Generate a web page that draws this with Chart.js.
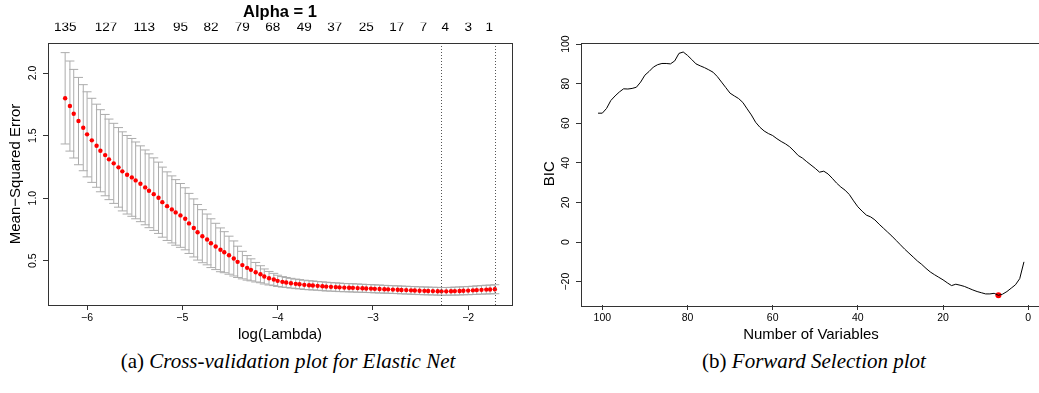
<!DOCTYPE html>
<html>
<head>
<meta charset="utf-8">
<script src="https://cdn.jsdelivr.net/npm/chart.js@4.4.1/dist/chart.umd.min.js"></script>
<style>
html, body { margin: 0; padding: 0; background: #fff; overflow: hidden; width: 1039px; height: 393px; }
#cvChart { position: absolute; left: 0; top: 0; }
#bicChart { position: absolute; left: 530px; top: 0; }
.cap { position: absolute; top: 349px; font-family: "Liberation Serif", "Times New Roman", serif; font-size: 21px; white-space: nowrap; transform: translateX(-50%); color: #000; }
.cap i { font-style: italic; }
</style>
</head>
<body>
<canvas id="cvChart" width="520" height="345"></canvas>
<canvas id="bicChart" width="520" height="345"></canvas>
<div class="cap" style="left:288px">(a) <i>Cross-validation plot for Elastic Net</i></div>
<div class="cap" style="left:814px">(b) <i>Forward Selection plot</i></div>
<script>
// ---- (a) cross-validation data ----
const cvLogLambda = [
  -6.23, -6.18, -6.14, -6.09, -6.04, -6.00, -5.95, -5.90, -5.86, -5.81,
  -5.77, -5.72, -5.67, -5.63, -5.58, -5.53, -5.49, -5.44, -5.39, -5.35,
  -5.30, -5.25, -5.21, -5.16, -5.11, -5.07, -5.02, -4.97, -4.93, -4.88,
  -4.84, -4.79, -4.74, -4.70, -4.65, -4.60, -4.56, -4.51, -4.46, -4.42,
  -4.37, -4.32, -4.28, -4.23, -4.18, -4.14, -4.09, -4.04, -4.00, -3.95,
  -3.91, -3.86, -3.81, -3.77, -3.72, -3.67, -3.63, -3.58, -3.53, -3.49,
  -3.44, -3.39, -3.35, -3.30, -3.25, -3.21, -3.16, -3.11, -3.07, -3.02,
  -2.98, -2.93, -2.88, -2.84, -2.79, -2.74, -2.70, -2.65, -2.60, -2.56,
  -2.51, -2.46, -2.42, -2.37, -2.32, -2.28, -2.23, -2.18, -2.14, -2.09,
  -2.05, -2.00, -1.95, -1.91, -1.86, -1.81, -1.77, -1.72
];
const cvMean = [
  1.798, 1.736, 1.675, 1.616, 1.563, 1.510, 1.462, 1.419, 1.379, 1.344,
  1.310, 1.278, 1.246, 1.214, 1.187, 1.166, 1.142, 1.115, 1.086, 1.059,
  1.032, 1.003, 0.968, 0.936, 0.910, 0.886, 0.862, 0.835, 0.798, 0.762,
  0.727, 0.696, 0.670, 0.640, 0.614, 0.587, 0.568, 0.544, 0.518, 0.491,
  0.465, 0.443, 0.427, 0.408, 0.392, 0.374, 0.360, 0.350, 0.339, 0.331,
  0.326, 0.320, 0.315, 0.312, 0.307, 0.304, 0.302, 0.299, 0.296, 0.293,
  0.291, 0.289, 0.287, 0.285, 0.284, 0.283, 0.281, 0.280, 0.278, 0.277,
  0.275, 0.274, 0.272, 0.271, 0.269, 0.268, 0.266, 0.265, 0.263, 0.262,
  0.260, 0.259, 0.258, 0.257, 0.256, 0.255, 0.255, 0.256, 0.257, 0.258,
  0.260, 0.261, 0.263, 0.265, 0.267, 0.269, 0.270, 0.272
];
const cvSd = [
  0.365, 0.360, 0.354, 0.349, 0.344, 0.340, 0.336, 0.332, 0.328, 0.325,
  0.322, 0.320, 0.318, 0.316, 0.314, 0.311, 0.307, 0.303, 0.299, 0.295,
  0.290, 0.285, 0.280, 0.274, 0.268, 0.262, 0.255, 0.248, 0.240, 0.232,
  0.222, 0.212, 0.203, 0.195, 0.185, 0.175, 0.164, 0.152, 0.140, 0.125,
  0.110, 0.098, 0.088, 0.078, 0.068, 0.060, 0.054, 0.049, 0.045, 0.042,
  0.040, 0.039, 0.038, 0.037, 0.037, 0.036, 0.036, 0.035, 0.035, 0.035,
  0.034, 0.034, 0.034, 0.033, 0.033, 0.033, 0.033, 0.032, 0.032, 0.032,
  0.032, 0.032, 0.031, 0.031, 0.031, 0.031, 0.031, 0.031, 0.031, 0.031,
  0.031, 0.031, 0.031, 0.031, 0.031, 0.031, 0.031, 0.031, 0.032, 0.032,
  0.032, 0.033, 0.033, 0.034, 0.034, 0.035, 0.035, 0.036
];
const lambdaMinLog = -2.28;
const lambda1seLog = -1.72;
const topTickPos = [-6.23, -5.80, -5.40, -5.02, -4.70, -4.37, -4.05, -3.72, -3.40, -3.07, -2.75, -2.47, -2.24, -2.00, -1.78];
const topTickLabels = ['135', '127', '113', '95', '82', '79', '68', '49', '37', '25', '17', '7', '4', '3', '1'];
const cvXTicks = [-6, -5, -4, -3, -2];
const cvYTicks = [0.5, 1.0, 1.5, 2.0];

// ---- (b) forward selection data ----
const bicVars = [
  101, 100, 99, 98, 97, 96, 95, 94, 93, 92, 91, 90, 89, 88, 87, 86, 85, 84, 83, 82,
  81, 80, 79, 78, 77, 76, 75, 74, 73, 72, 71, 70, 69, 68, 67, 66, 65, 64, 63, 62,
  61, 60, 59, 58, 57, 56, 55, 54, 53, 52, 51, 50, 49, 48, 47, 46, 45, 44, 43, 42,
  41, 40, 39, 38, 37, 36, 35, 34, 33, 32, 31, 30, 29, 28, 27, 26, 25, 24, 23, 22,
  21, 20, 19, 18, 17, 16, 15, 14, 13, 12, 11, 10, 9, 8, 7, 6, 5, 4, 3, 2, 1
];
const bicValues = [
  65.1, 65.1, 67.5, 71.5, 73.8, 75.8, 77.4, 77.3, 77.6, 78.2, 80.8, 84.3, 86.2, 88.4, 89.6, 90.2, 90.2, 90.0, 91.5, 95.3,
  96.0, 94.3, 92.2, 90.0, 89.0, 88.1, 87.0, 85.8, 83.6, 80.8, 78.0, 75.2, 73.8, 72.5, 70.5, 67.3, 64.2, 60.5, 58.0, 56.1,
  54.8, 53.8, 52.2, 50.8, 49.6, 48.1, 46.0, 43.7, 42.4, 40.6, 38.9, 37.2, 35.3, 35.8, 34.4, 32.2, 29.8, 27.8, 26.2, 24.0,
  20.8, 17.8, 15.6, 13.6, 12.7, 11.2, 9.0, 7.0, 5.0, 3.0, 0.8, -1.4, -3.6, -5.6, -7.6, -9.6, -11.3, -13.3, -15.1, -16.5,
  -17.8, -19.1, -20.6, -22.0, -21.3, -21.8, -22.4, -23.3, -24.2, -25.0, -25.6, -26.2, -26.2, -25.9, -26.9, -26.3, -25.0, -23.3, -21.6, -18.5, -10.0
];
const bicBestVars = 7;
const bicBestValue = -26.9;
const bicXTicks = [100, 80, 60, 40, 20, 0];
const bicYTicks = [-20, 0, 20, 40, 60, 80, 100];

Chart.defaults.font.family = '"Liberation Sans", Arial, sans-serif';
Chart.defaults.color = '#000';

const minus = v => String(v).replace('-', '\u2212');

const boxPlugin = {
  id: 'box',
  afterDraw(chart) {
    const a = chart.chartArea;
    const ctx = chart.ctx;
    ctx.save();
    ctx.strokeStyle = '#333';
    ctx.lineWidth = 1;
    ctx.strokeRect(Math.round(a.left) + 0.5, Math.round(a.top) + 0.5, Math.round(a.right - a.left), Math.round(a.bottom - a.top));
    ctx.restore();
  }
};

const errorBars = {
  id: 'errorBars',
  beforeDatasetsDraw(chart) {
    const ctx = chart.ctx;
    const x = chart.scales.x, y = chart.scales.y;
    ctx.save();
    ctx.strokeStyle = '#acacac';
    ctx.lineWidth = 1;
    cvLogLambda.forEach((v, i) => {
      const px = x.getPixelForValue(v);
      const top = y.getPixelForValue(cvMean[i] + cvSd[i]);
      const bot = y.getPixelForValue(cvMean[i] - cvSd[i]);
      ctx.beginPath();
      ctx.moveTo(px, top); ctx.lineTo(px, bot);
      ctx.moveTo(px - 4.5, top); ctx.lineTo(px + 4.5, top);
      ctx.moveTo(px - 4.5, bot); ctx.lineTo(px + 4.5, bot);
      ctx.stroke();
    });
    ctx.restore();
  },
  afterDatasetsDraw(chart) {
    const ctx = chart.ctx;
    const x = chart.scales.x;
    const a = chart.chartArea;
    ctx.save();
    ctx.strokeStyle = '#555';
    ctx.lineWidth = 1;
    ctx.setLineDash([1, 2]);
    [lambdaMinLog, lambda1seLog].forEach(v => {
      const px = Math.round(x.getPixelForValue(v)) + 0.5;
      ctx.beginPath();
      ctx.moveTo(px, a.top);
      ctx.lineTo(px, a.bottom);
      ctx.stroke();
    });
    ctx.restore();
  }
};

const tickFont = { size: 10.5 };
const titleFont = { size: 15 };
const tickGrid = { drawOnChartArea: false, drawTicks: true, tickLength: 5, color: '#333' };

new Chart(document.getElementById('cvChart'), {
  type: 'scatter',
  data: {
    datasets: [{
      data: cvLogLambda.map((v, i) => ({ x: v, y: cvMean[i] })),
      pointRadius: 2.2,
      pointBackgroundColor: '#ff0000',
      pointBorderWidth: 0,
      showLine: false
    }]
  },
  options: {
    responsive: false,
    animation: false,
    layout: { padding: { right: 8 } },
    plugins: {
      legend: { display: false },
      tooltip: { enabled: false },
      title: {
        display: true,
        text: 'Alpha = 1',
        fullSize: false,
        font: { size: 16.5, weight: 'bold' },
        padding: { top: 3, bottom: 0 }
      }
    },
    scales: {
      x: {
        type: 'linear', position: 'bottom', min: -6.41, max: -1.54,
        afterBuildTicks: s => { s.ticks = cvXTicks.map(v => ({ value: v })); },
        ticks: { font: tickFont, padding: 2, maxRotation: 0, autoSkip: false, callback: v => minus(v) },
        grid: tickGrid,
        border: { display: false },
        title: { display: true, text: 'log(Lambda)', font: titleFont, padding: { top: 0, bottom: 1 } },
        afterFit: s => { s.height = 40; }
      },
      xTop: {
        type: 'linear', position: 'top', min: -6.41, max: -1.54,
        afterBuildTicks: s => { s.ticks = topTickPos.map(v => ({ value: v })); },
        ticks: { font: { size: 13.5 }, padding: 8, maxRotation: 0, autoSkip: false, callback: (v, i) => topTickLabels[i] },
        grid: { display: false, drawTicks: false },
        border: { display: false },
        afterFit: s => { s.height = 20.2; }
      },
      y: {
        type: 'linear', min: 0.146, max: 2.24,
        afterBuildTicks: s => { s.ticks = cvYTicks.map(v => ({ value: v })); },
        ticks: { font: tickFont, padding: 3, minRotation: 90, maxRotation: 90, crossAlign: 'center', callback: v => v.toFixed(1) },
        grid: tickGrid,
        border: { display: false },
        title: { display: true, text: 'Mean\u2212Squared Error', font: titleFont, padding: { top: 7, bottom: 0 } },
        afterFit: s => { s.width = 48; }
      }
    }
  },
  plugins: [errorBars, boxPlugin]
});

new Chart(document.getElementById('bicChart'), {
  type: 'scatter',
  data: {
    datasets: [{
      data: bicVars.map((v, i) => ({ x: v, y: bicValues[i] })),
      showLine: true,
      borderColor: '#000',
      borderWidth: 1,
      pointRadius: 0,
      tension: 0
    }, {
      data: [{ x: bicBestVars, y: bicBestValue }],
      pointRadius: 3,
      pointBackgroundColor: '#ff0000',
      pointBorderWidth: 0
    }]
  },
  options: {
    responsive: false,
    animation: false,
    layout: { padding: { top: 42.5, right: 9 } },
    plugins: { legend: { display: false }, tooltip: { enabled: false } },
    scales: {
      x: {
        type: 'linear', reverse: true, min: -3, max: 105,
        afterBuildTicks: s => { s.ticks = bicXTicks.map(v => ({ value: v })); },
        ticks: { font: tickFont, padding: 2, maxRotation: 0, autoSkip: false },
        grid: tickGrid,
        border: { display: false },
        title: { display: true, text: 'Number of Variables', font: titleFont, padding: { top: 0, bottom: 1 } },
        afterFit: s => { s.height = 40; }
      },
      y: {
        type: 'linear', min: -31.8, max: 100.8,
        afterBuildTicks: s => { s.ticks = bicYTicks.map(v => ({ value: v })); },
        ticks: { font: tickFont, padding: 1, minRotation: 90, maxRotation: 90, crossAlign: 'center', callback: v => minus(v) },
        grid: tickGrid,
        border: { display: false },
        title: { display: true, text: 'BIC', font: titleFont, padding: { top: 11, bottom: 0 } },
        afterFit: s => { s.width = 51; }
      }
    }
  },
  plugins: [boxPlugin]
});
</script>
</body>
</html>
